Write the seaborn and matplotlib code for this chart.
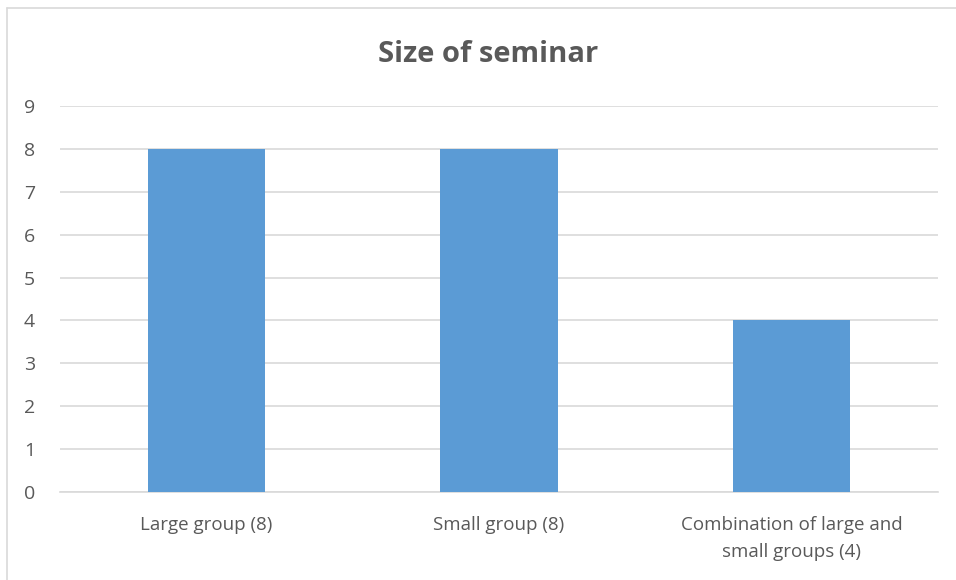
import matplotlib
matplotlib.use("Agg")
import matplotlib.pyplot as plt
import seaborn as sns
import pandas as pd
from matplotlib.lines import Line2D

categories = ["Large group (8)", "Small group (8)", "Combination of large and\nsmall groups (4)"]
values = [8, 8, 4]
yticks = list(range(0, 10))

sns.set_theme(style="white")
plt.rcParams["font.family"] = ["Open Sans", "DejaVu Sans"]

df = pd.DataFrame({"category": categories, "value": values})

fig = plt.figure(figsize=(9.56, 5.8), dpi=100)
ax = fig.add_axes([60/956, 1-492/580, (938-60)/956, (492-106)/580])
sns.barplot(data=df, x="category", y="value", color="#5B9BD5", width=0.4,
            saturation=1, linewidth=0, ax=ax, zorder=3)
ax.set_ylim(0, 9)
ax.set_yticks(yticks)
ax.yaxis.grid(True, color="#D9D9D9", linewidth=1.2, zorder=0)
ax.set_axisbelow(True)
for s in ["top", "right", "left"]:
    ax.spines[s].set_visible(False)
ax.spines["bottom"].set_color("#D9D9D9")
ax.spines["bottom"].set_linewidth(1.2)
ax.set_xlabel("")
ax.set_ylabel("")
ax.tick_params(axis="y", length=0, pad=18, labelsize=14, labelcolor="#595959")
ax.tick_params(axis="x", length=0, pad=17, labelsize=13.5, labelcolor="#595959")
for lab in ax.get_xticklabels():
    lab.set_linespacing(1.65)

fig.text(488/956, 1-55/580, "Size of seminar", ha="center", va="center",
         fontsize=21, fontweight="bold", color="#595959")

# chart frame
fig.add_artist(Line2D([7/956, 7/956], [0, 1-8/580], transform=fig.transFigure,
                      color="#D9D9D9", linewidth=1.2))
fig.add_artist(Line2D([7/956, 1], [1-8/580, 1-8/580], transform=fig.transFigure,
                      color="#D9D9D9", linewidth=1.2))

fig.savefig("out.png", dpi=100)
